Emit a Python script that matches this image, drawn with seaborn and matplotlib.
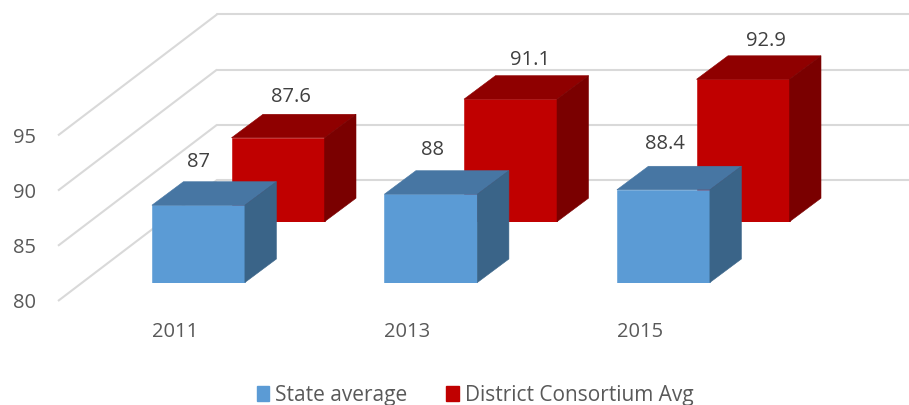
import matplotlib
matplotlib.use('Agg')
import matplotlib.pyplot as plt
import seaborn as sns
from matplotlib.patches import Polygon, Patch

# ── data ──────────────────────────────────────────────────────────────────────
years = ['2011', '2013', '2015']
state_avg = [87, 88, 88.4]
district_avg = [87.6, 91.1, 92.9]
y_ticks = [80, 85, 90, 95]

# ── fake 3d layout, all in pixels of the 909x405 figure ───────────────────────
W, H = 909, 405
PX_PER_UNIT = 11.04
PX_PER_CAT = 232.5
DEPTH_X, DEPTH_Y = 31.5, 23.5   # box depth
FLOOR_X, FLOOR_Y = 159, 121     # floor depth, front edge to back wall

sns.set_theme(style='white')
plt.rcParams['font.family'] = ['Open Sans', 'DejaVu Sans']

fig = plt.figure(figsize=(W / 100, H / 100), dpi=100)


def plane(x0_px, base_px, right_px, top_value, first_cat_px):
    # axes whose y=80 sits at base_px and whose category 0 sits at first_cat_px
    height = (top_value - 80) * PX_PER_UNIT
    ax = fig.add_axes([x0_px / W, (H - base_px) / H,
                       (right_px - x0_px) / W, height / H])
    ax.patch.set_alpha(0)
    return ax, ((x0_px - first_cat_px) / PX_PER_CAT,
                (right_px - first_cat_px) / PX_PER_CAT), (80, top_value)


def boxes(ax, values, front, top, side, xlim, ylim):
    sns.barplot(x=years, y=values, color=front, saturation=1, width=0.4, ax=ax,
                edgecolor=front, linewidth=0.4)
    ax.set_xlim(*xlim)
    ax.set_ylim(*ylim)
    ax.set_axis_off()
    dx = DEPTH_X / PX_PER_CAT
    dy = DEPTH_Y / PX_PER_UNIT
    for bar in list(ax.patches):
        x0, x1 = bar.get_x(), bar.get_x() + bar.get_width()
        v = bar.get_height()
        ax.add_patch(Polygon([(x0, v), (x1, v), (x1 + dx, v + dy), (x0 + dx, v + dy)],
                             facecolor=top, edgecolor=top, lw=0.4, clip_on=False))
        ax.add_patch(Polygon([(x1, 80), (x1 + dx, 80 + dy), (x1 + dx, v + dy), (x1, v)],
                             facecolor=side, edgecolor=side, lw=0.4, clip_on=False))


def value_labels(ax, values, nudge_x, nudge_y):
    for i, v in enumerate(values):
        ax.annotate(str(v), (i, v), xytext=(nudge_x[i] * 0.72, nudge_y[i] * 0.72),
                    textcoords='offset points', ha='center', va='center',
                    fontsize=14.5, color='#404040', annotation_clip=False)


# ── back wall with gridlines ──────────────────────────────────────────────────
wall, _, wall_ylim = plane(217, 180, 909, 95, 217)
wall.set_ylim(*wall_ylim)
wall.set_xlim(0, 1)
wall.set_axis_off()
for t in y_ticks:
    wall.axhline(t, color='#D9D9D9', lw=1.5, clip_on=False)
    wall.plot([0, -FLOOR_X / (909 - 217)], [t, t - FLOOR_Y / PX_PER_UNIT],
              color='#D9D9D9', lw=1.5, clip_on=False, solid_capstyle='butt')

# ── district series, back row ─────────────────────────────────────────────────
ax_red, xlim, ylim = plane(0, 221.7, 909, 100, 278)
boxes(ax_red, district_avg, '#C00000', '#8F0000', '#7A0000', xlim, ylim)
value_labels(ax_red, district_avg, [13, 20, 23], [40.7, 39, 38])

# ── state series, front row ───────────────────────────────────────────────────
ax_blue, xlim, ylim = plane(0, 282.5, 909, 100, 198.4)
boxes(ax_blue, state_avg, '#5B9BD5', '#4776A3', '#3A6488', xlim, ylim)
value_labels(ax_blue, state_avg, [0, 2, 2], [43.7, 44, 46])

# ── front edge of floor carries the tick labels ───────────────────────────────
front, xlim, ylim = plane(58, 301, 909, 95, 175)
front.set_xlim(*xlim)
front.set_ylim(*ylim)
front.set_xticks(range(len(years)), years)
front.set_yticks(y_ticks)
front.tick_params(axis='both', length=0, labelsize=14.5, labelcolor='#595959')
front.tick_params(axis='x', pad=15)
front.tick_params(axis='y', pad=16)
sns.despine(ax=front, left=True, bottom=True)

handles = [Patch(color='#5B9BD5', label='State average'),
           Patch(color='#C00000', label='District Consortium Avg')]
fig.legend(handles=handles, ncol=2, loc='center', bbox_to_anchor=(475 / W, (H - 395.5) / H),
           frameon=False, fontsize=15, labelcolor='#595959', handlelength=0.6,
           handleheight=0.7, handletextpad=0.3, columnspacing=1.85,
           borderpad=0, borderaxespad=0)

fig.savefig('out.png', dpi=100)
